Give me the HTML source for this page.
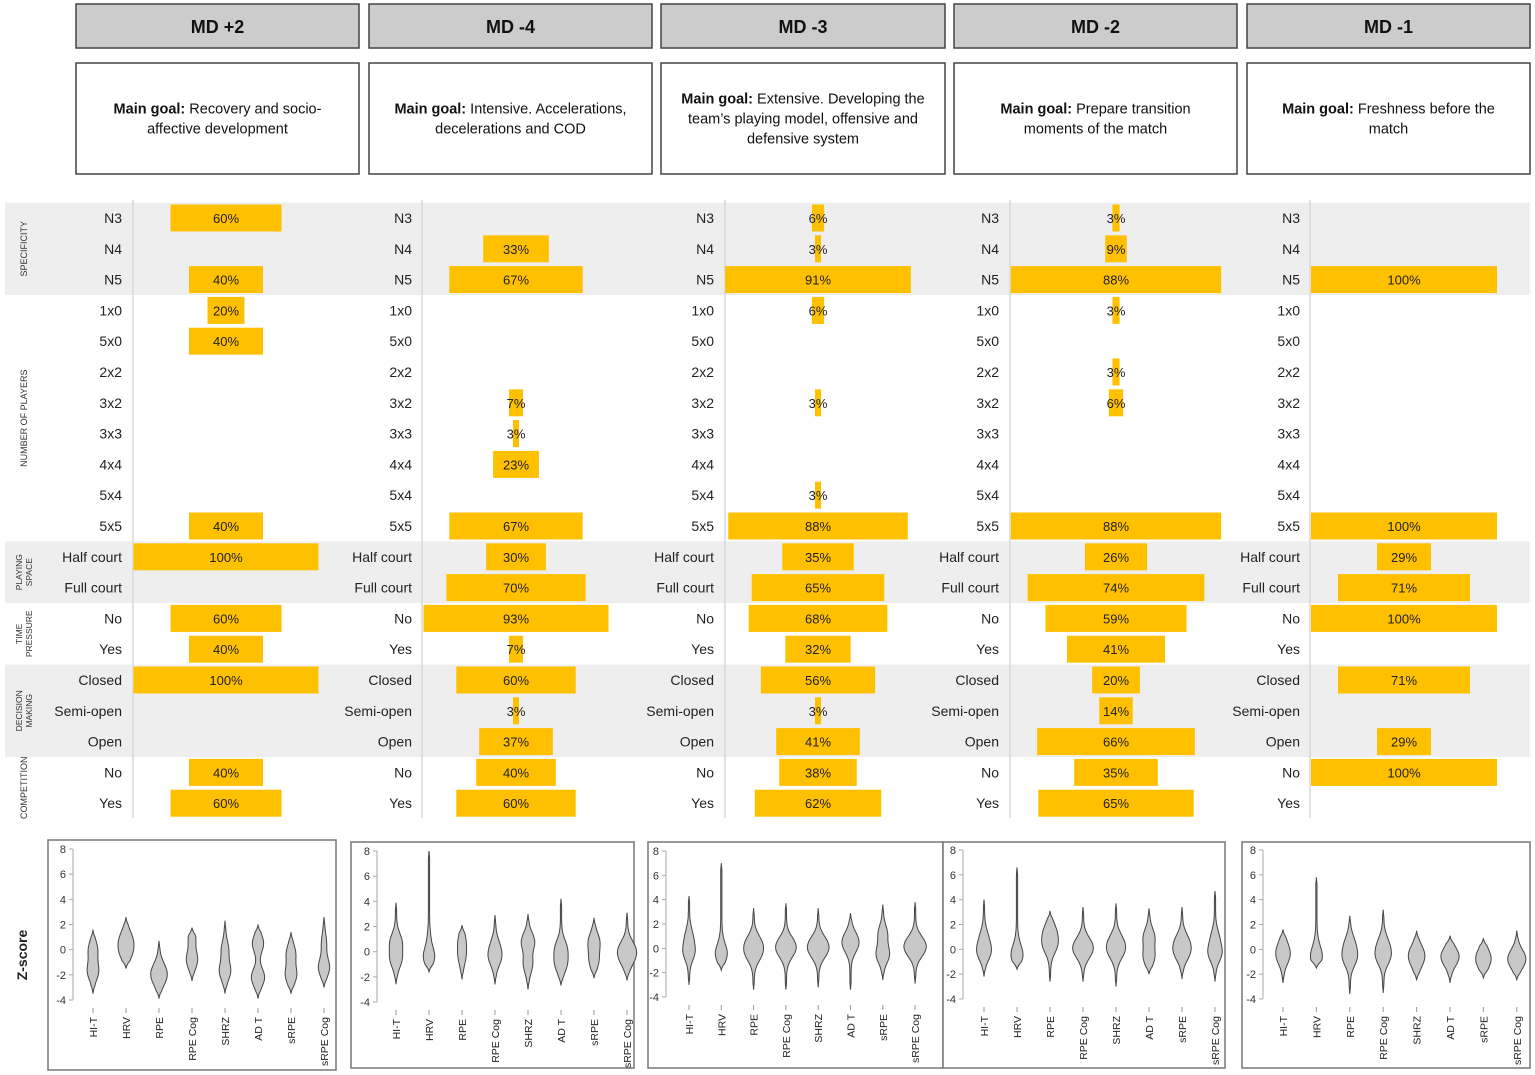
<!DOCTYPE html>
<html><head><meta charset="utf-8"><style>
html,body{margin:0;padding:0;background:#fff;}
svg{display:block;font-family:"Liberation Sans",sans-serif;}
</style></head><body>
<svg id="fig" width="1535" height="1075" viewBox="0 0 1535 1075"></svg>
<script>
// ---------- DATA ----------
const days = ["MD +2","MD -4","MD -3","MD -2","MD -1"];
const goalsBold = "Main goal:";
const goals = [
  ["Recovery and socio-","affective development"],
  ["Intensive. Accelerations,","decelerations and COD"],
  ["Extensive. Developing the","team\u2019s playing model, offensive and","defensive system"],
  ["Prepare transition","moments of the match"],
  ["Freshness before the","match"]
];
const rowLabels = ["N3","N4","N5","1x0","5x0","2x2","3x2","3x3","4x4","5x4","5x5","Half court","Full court","No","Yes","Closed","Semi-open","Open","No","Yes"];
const sections = [
  {lines:["SPECIFICITY"],from:0,to:2,shade:true},
  {lines:["NUMBER OF PLAYERS"],from:3,to:10,shade:false},
  {lines:["PLAYING","SPACE"],from:11,to:12,shade:true},
  {lines:["TIME","PRESSURE"],from:13,to:14,shade:false},
  {lines:["DECISION","MAKING"],from:15,to:17,shade:true},
  {lines:["COMPETITION"],from:18,to:19,shade:false}
];
const md2 = [60,null,40,20,40,null,null,null,null,null,40,100,null,60,40,100,null,null,40,60];
const md4 = [null,33,67,null,null,null,7,3,23,null,67,30,70,93,7,60,3,37,40,60];
const md3 = [6,3,91,6,null,null,3,null,null,3,88,35,65,68,32,56,3,41,38,62];
const mdm2 = [3,9,88,3,null,3,6,null,null,null,88,26,74,59,41,20,14,66,35,65];
const md1 = [null,null,100,null,null,null,null,null,null,null,100,29,71,100,null,71,null,29,100,null];
const pctSeries = [md2,md4,md3,mdm2,md1];

const vars = ["HI-T","HRV","RPE","RPE Cog","SHRZ","AD T","sRPE","sRPE Cog"];
const yTicks = [8,6,4,2,0,-2,-4];
// each violin: [min, max, mode1, width1, mode2, width2]
const violinMD2 = [[-3.5,1.6,0,4,-1.7,5],[-1.5,2.6,0.9,5,-0.2,5],[-3.9,0.7,-1.5,4,-2.3,5],[-2.5,1.7,1.0,3,-0.8,5],[-3.5,2.3,0,3,-1.7,5],[-3.9,2.0,0.5,5,-2.2,6],[-3.5,1.4,-0.3,4,-2,5],[-3,2.6,0.5,2,-1.4,5]];
const violinMD4 = [[-2.6,3.9,0.8,5,-0.6,5],[-1.6,8,1,1,-0.4,5],[-2.2,2.1,0.9,3,-0.4,3],[-2.6,2.9,0.5,3,-0.5,5],[-3,3,0.8,6,-1,4],[-2.7,4.2,0.3,5,-1,5],[-2.1,2.7,0.8,5,-0.7,4],[-2.3,3.1,0.3,6,-0.6,5]];
const violinMD3 = [[-3,4.3,1,3,-0.3,5],[-1.8,7,0.5,1,-0.5,5],[-3.4,3.3,0.5,6,-0.5,6],[-3.4,3.7,0.4,6,-0.3,5],[-3.2,3.3,0.5,6,-0.3,6],[-3.4,2.9,0.9,4,0.2,5],[-2.6,3.6,1.2,4,-0.5,6],[-2.9,3.8,0.5,6,-0.2,6]];
const violinMDm2 = [[-2.2,4,1,3,-0.2,6],[-1.6,6.6,0.5,1,-0.5,5],[-2.6,3.1,1.5,5,0.3,6],[-2.6,3.4,0.5,5,-0.2,6],[-3,3.7,0.7,5,-0.2,6],[-2,3.3,1,5,-0.6,5],[-2.4,3.4,0.7,5,-0.3,6],[-2.6,4.7,1,3,-0.3,6]];
const violinMD1 = [[-2.7,1.6,0.3,3,-0.6,5],[-1.5,5.8,0.5,1,-0.6,5],[-3.6,2.7,0.5,4,-0.7,6],[-3.5,3.2,0.5,4,-0.6,6],[-2.5,1.5,-0.2,5,-1,4],[-2.7,1.1,-0.3,4,-0.8,5],[-2.3,0.9,-0.3,3,-1,5],[-2.5,1.5,-0.5,4,-1,5]];
const violinSets = [violinMD2,violinMD4,violinMD3,violinMDm2,violinMD1];

// ---------- LAYOUT ----------
const NS="http://www.w3.org/2000/svg";
const svg=document.getElementById('fig');
function mk(tag,attrs,parent){const e=document.createElementNS(NS,tag);for(const k in attrs)e.setAttribute(k,attrs[k]);(parent||svg).appendChild(e);return e;}
const colBox=[[76,359],[369,652],[661,945],[954,1237],[1247,1530]];
const labelRight=[122,412,714,999,1300];
const divX=[133,422,725,1010,1310];
const barCenter=[226,516,818,1116,1404];
const pxPerPct=[1.85,1.99,2.04,2.39,1.86];
const row0=218, rowH=30.8, barH=27;
function rowY(i){return row0+i*rowH;}

sections.forEach(s=>{
  if(!s.shade)return;
  const b=mk('rect',{x:5,y:rowY(s.from)-rowH/2,width:1525,height:(s.to-s.from+1)*rowH,fill:'#eeeeee'});
  
  
});
sections.forEach(s=>{
  const cy=(rowY(s.from)+rowY(s.to))/2;
  const g=mk('g',{transform:`translate(24,${cy}) rotate(-90)`});
  
  
  s.lines.forEach((ln,k)=>{
    const off=(k-(s.lines.length-1)/2)*10;
    const t=mk('text',{x:0,y:off+3,'text-anchor':'middle','font-size':s.lines.length>1?8.5:9,fill:'#333'},g);
    t.textContent=ln;
  });
});

days.forEach((d,c)=>{
  const [x0,x1]=colBox[c];
  const h=mk('rect',{x:x0,y:4,width:x1-x0,height:44,fill:'#cccccc',stroke:'#444','stroke-width':1.5});
  
  
  const t=mk('text',{x:(x0+x1)/2,y:33,'text-anchor':'middle','font-size':18,'font-weight':'bold',fill:'#111'});
  
  
  t.textContent=d;
  const gb=mk('rect',{x:x0,y:63,width:x1-x0,height:111,fill:'#fff',stroke:'#444','stroke-width':1.5});
  
  
  const lines=goals[c];
  const startY=118.5-(lines.length-1)*10+5;
  lines.forEach((ln,k)=>{
    const tt=mk('text',{x:(x0+x1)/2,y:startY+k*20,'text-anchor':'middle','font-size':14.5,fill:'#111'});
    
    
    if(k===0){const b=mk('tspan',{'font-weight':'bold'},tt);b.textContent=goalsBold+' ';const r=mk('tspan',{},tt);r.textContent=ln;}
    else tt.textContent=ln;
  });
});

pctSeries.forEach((series,c)=>{
  const dv=mk('line',{x1:divX[c],y1:200,x2:divX[c],y2:818,stroke:'#d8d8d8','stroke-width':1.5});
  
  
  rowLabels.forEach((lab,i)=>{
    const t=mk('text',{x:labelRight[c],y:rowY(i)+5,'text-anchor':'end','font-size':14,fill:'#222'});
    
    
    t.textContent=lab;
    const v=series[i];
    if(v==null)return;
    const w=Math.max(v*pxPerPct[c],6);
    const r=mk('rect',{x:barCenter[c]-w/2,y:rowY(i)-barH/2,width:w,height:barH,fill:'#ffc000'});
    
    
    const pt=mk('text',{x:barCenter[c],y:rowY(i)+5,'text-anchor':'middle','font-size':13,fill:'#222'});
    
    
    pt.textContent=v+'%';
  });
});

const panels=[
  {box:[48,840,336,1070],ax:73,y8:849,ym4:1000,v0:93,dv:33},
  {box:[351,842,634,1068],ax:377,y8:851,ym4:1002,v0:396,dv:33},
  {box:[648,842,943,1068],ax:666,y8:851,ym4:997,v0:689,dv:32.3},
  {box:[943,842,1225,1068],ax:963,y8:850,ym4:999,v0:984,dv:33},
  {box:[1242,842,1530,1068],ax:1263,y8:850,ym4:999,v0:1283,dv:33.4}
];
panels.forEach((p,pi)=>{
  const g=mk('g',{});
  
  
  const [bx0,by0,bx1,by1]=p.box;
  mk('rect',{x:bx0,y:by0,width:bx1-bx0,height:by1-by0,fill:'#fff',stroke:'#777','stroke-width':1.5},g);
  const yS=v=>p.y8+(8-v)*(p.ym4-p.y8)/12;
  mk('line',{x1:p.ax,y1:yS(8),x2:p.ax,y2:yS(-4),stroke:'#aaa','stroke-width':1},g);
  yTicks.forEach(t=>{
    mk('line',{x1:p.ax-4,y1:yS(t),x2:p.ax,y2:yS(t),stroke:'#aaa'},g);
    const tx=mk('text',{x:p.ax-7,y:yS(t)+4,'text-anchor':'end','font-size':11,fill:'#333'},g);
    
    
    tx.textContent=t;
  });
  violinSets[pi].forEach((vd,k)=>{
    const cx=p.v0+k*p.dv;
    const [mn,mx,m1,w1,m2,w2]=vd;
    const N=60;let L=[],R=[];
    for(let j=0;j<=N;j++){
      const v=mn+(mx-mn)*j/N;
      const edge=Math.min(v-mn,mx-v);
      const taper=Math.min(1,edge/0.6);
      const hw=(0.6+w1*Math.exp(-Math.pow((v-m1)/1.0,2))+w2*Math.exp(-Math.pow((v-m2)/1.0,2)))*taper;
      L.push([cx-hw,yS(v)]);R.push([cx+hw,yS(v)]);
    }
    const pts=L.concat(R.reverse()).map(q=>q[0].toFixed(1)+','+q[1].toFixed(1)).join(' ');
    const vp=mk('polygon',{points:pts,fill:'#c8c8c8',stroke:'#444','stroke-width':1},g);
    
    
    mk('line',{x1:cx,y1:yS(-4)+8,x2:cx,y2:yS(-4)+13,stroke:'#999'},g);
    const lt=mk('text',{x:0,y:0,'text-anchor':'end','font-size':10.5,fill:'#222',transform:`translate(${cx+4},${yS(-4)+17}) rotate(-90)`},g);
    
    
    lt.textContent=vars[k];
  });
});
const zl=mk('text',{x:0,y:0,'text-anchor':'middle','font-size':14,'font-weight':'bold',fill:'#222',transform:'translate(27,955) rotate(-90)'});


zl.textContent='Z-score';
</script>
</body></html>
